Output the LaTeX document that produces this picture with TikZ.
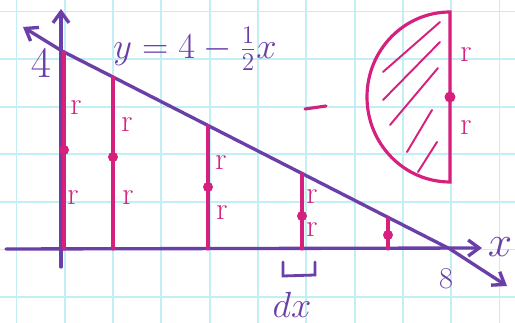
\documentclass[tikz,border=0pt]{standalone}
\usepackage{tikz}
\usetikzlibrary{arrows.meta,positioning,calc}
\definecolor{gridcyan}{HTML}{C2EFF3}
\definecolor{penpurple}{HTML}{6B3FA8}
\definecolor{penpink}{HTML}{D6207E}
\tikzset{
  gridline/.style={draw=gridcyan,line width=1.1pt},
  axisline/.style={draw=penpurple,line width=1.9pt,line cap=round},
  handarr/.style={-{Straight Barb[length=2.2mm,width=3.2mm]}},
  slicebar/.style={draw=penpink,line width=1.8pt,line cap=round},
  hatchline/.style={draw=penpink,line width=1.1pt,line cap=round},
  rlabel/.style={text=penpink,font=\fontsize{18}{18}\selectfont,inner sep=0pt},
  penlabel/.style={text=penpurple,inner sep=0pt}
}

\begin{document}
\begin{tikzpicture}[x=0.02cm,y=-0.02cm]
    \path[use as bounding box] (0,0) rectangle (515,323);
    \fill[white] (0,0) rectangle (515,323);
    % grid paper
    \foreach \gx in {0,...,10}
      \draw[gridline] (16.5+48.3*\gx,0) -- (16.5+48.3*\gx,323);
    \foreach \gy in {0,...,6}
      \draw[gridline] (0,11.5+47.6*\gy) -- (515,11.5+47.6*\gy);

    % axes
    \draw[axisline,handarr] (61,267) -- (61,9);
    \draw[axisline,handarr] (6,249) -- (482,248);
    \node[penlabel,font=\fontsize{24}{24}\selectfont] (xlab) at (500,247) {$x$};

    % line y = 4 - x/2
    \coordinate (yint) at (62,51);
    \coordinate (xint) at (450,249);
    \draw[axisline,handarr] (yint) -- (23,27);
    \draw[axisline,handarr] (yint) -- (xint) -- (507,286);
    \node[penlabel,font=\fontsize{24}{24}\selectfont] (four) at (41,63) {$4$};
    \node[penlabel,font=\fontsize{16}{16}\selectfont] (eight) at (446,279) {$8$};
    \node[penlabel,font=\fontsize{20}{20}\selectfont] (eq) at (195,49)
      {$y=4-\frac{1}{2}x$};

    % slices
    \foreach \bx/\by/\dy [count=\i] in {64/52/150,113/77/157,208/126/187,
                                        302/174/216,388/218/235}{
      \draw[slicebar] (\bx,249) -- (\bx,\by);
      \fill[penpink] (\bx,\dy) circle (5);
    }
    \foreach \rx/\ry [count=\i] in {76/108,73/198,127/125,128/198,
                                    221/163,222/213,312/197,312/230}{
      \node[rlabel] (r\i) at (\rx,\ry) {r};
    }
    \draw[slicebar] (305,109) -- (326,106);

    % dx
    \draw[axisline,line width=1.6pt] (283,262) -- (283,276) -- (315,275) -- (315,262);
    \node[penlabel,font=\fontsize{22}{22}\selectfont] (dx) at (292,305) {$dx$};

    % half disk
    \draw[slicebar] (450,182) arc[start angle=90,end angle=270,
      x radius=83,y radius=85] -- cycle;
    \foreach \ha/\hb/\hc/\hd in {383/72/440/22,383/100/440/42,390/125/438/68,
                                 407/152/432/110,418/172/437/142}
      \draw[hatchline] (\ha,\hb) -- (\hc,\hd);
    \fill[penpink] (450,97) circle (5.5);
    \node[rlabel] (rtop) at (466,55) {r};
    \node[rlabel] (rbot) at (466,128) {r};
  \end{tikzpicture}
\end{document}
